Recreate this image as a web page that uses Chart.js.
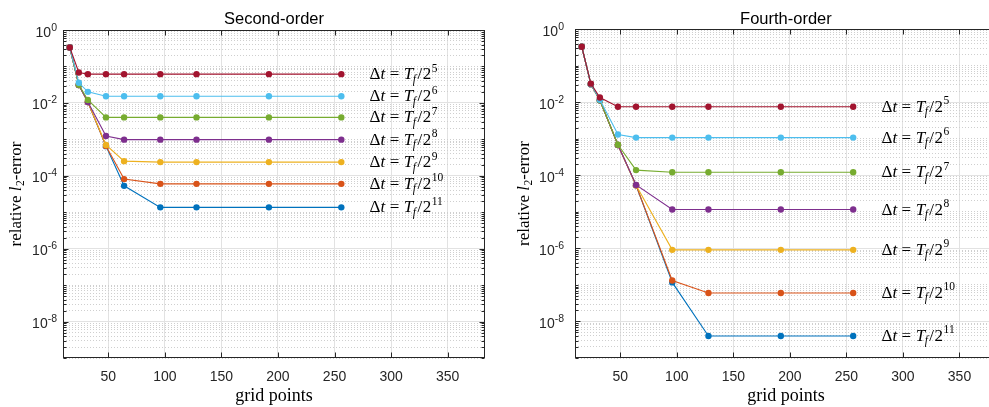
<!DOCTYPE html>
<html>
<head>
<meta charset="utf-8">
<script src="https://cdn.jsdelivr.net/npm/chart.js@4.4.1/dist/chart.umd.min.js"></script>
<style>
    html, body { margin: 0; padding: 0; background: #fff; overflow: hidden; }
    #wrap { position: relative; width: 989px; height: 407px; overflow: hidden; }
    #left { position: absolute; left: 0; top: 0; }
    #right { position: absolute; left: 495px; top: 0; }
</style>
</head>
<body>
<div id="wrap">
    <canvas id="left" width="495" height="407"></canvas>
    <canvas id="right" width="505" height="407"></canvas>
</div>
<script>
// Grid sizes (x values) shared by every curve
const gridPoints = [16, 24, 32, 48, 64, 96, 128, 192, 256];
const xTicks = [50, 100, 150, 200, 250, 300, 350];
const yMajorExponents = [0, -2, -4, -6, -8];
const stepExponents = [5, 6, 7, 8, 9, 10, 11];
const seriesColors = ['#A2142F', '#4DBEEE', '#77AC30', '#7E2F8E', '#EDB120', '#D95319', '#0072BD'];

// Second-order errors, dt = Tf/2^5 ... Tf/2^11
const second5  = [0.33, 0.068, 0.0614, 0.0614, 0.0614, 0.0614, 0.0614, 0.0614, 0.0614];
const second6  = [0.33, 0.0356, 0.0201, 0.0152, 0.0152, 0.0152, 0.0152, 0.0152, 0.0152];
const second7  = [0.33, 0.0313, 0.012, 0.004, 0.004, 0.004, 0.004, 0.004, 0.004];
const second8  = [0.33, 0.031, 0.0105, 0.00123, 0.00098, 0.00098, 0.00098, 0.00098, 0.00098];
const second9  = [0.33, 0.031, 0.0105, 0.0007, 0.000252, 0.000237, 0.000237, 0.000237, 0.000237];
const second10 = [0.33, 0.031, 0.0105, 0.00066, 8.1e-5, 6.0e-5, 6.0e-5, 6.0e-5, 6.0e-5];
const second11 = [0.33, 0.031, 0.0105, 0.00065, 5.3e-5, 1.36e-5, 1.36e-5, 1.36e-5, 1.36e-5];

// Fourth-order errors
const fourth5  = [0.327, 0.032, 0.0134, 0.0075, 0.0075, 0.0075, 0.0075, 0.0075, 0.0075];
const fourth6  = [0.327, 0.031, 0.0116, 0.0013, 0.00107, 0.00107, 0.00107, 0.00107, 0.00107];
const fourth7  = [0.327, 0.031, 0.0112, 0.00068, 0.000138, 0.000121, 0.000121, 0.000121, 0.000121];
const fourth8  = [0.327, 0.031, 0.0112, 0.00067, 5.4e-5, 1.15e-5, 1.15e-5, 1.15e-5, 1.15e-5];
const fourth9  = [0.327, 0.031, 0.0112, 0.00067, 5.3e-5, 9.1e-7, 9.1e-7, 9.1e-7, 9.1e-7];
const fourth10 = [0.327, 0.031, 0.0112, 0.00067, 5.3e-5, 1.32e-7, 6.0e-8, 6.0e-8, 6.0e-8];
const fourth11 = [0.327, 0.031, 0.0112, 0.00067, 5.3e-5, 1.17e-7, 4.0e-9, 4.0e-9, 4.0e-9];

const labelX = 281; // where the dt annotations start (data units)

const AXIS = '#262626';
const SANS = '"Liberation Sans", Arial, sans-serif';
const SERIF = '"Liberation Serif", "Times New Roman", serif';

function isMajor(v) {
    const e = Math.log10(v);
    const r = Math.round(e);
    return Math.abs(e - r) < 1e-6 && yMajorExponents.includes(r);
}

function drawPieces(ctx, x, y, pieces) {
    let cx = x;
    pieces.forEach(p => {
        ctx.font = p.font;
        cx += p.pre || 0;
        ctx.fillText(p.t, cx, y + (p.dy || 0));
        cx += ctx.measureText(p.t).width + (p.post || 0);
    });
    return cx - x;
}

function measurePieces(ctx, pieces) {
    let w = 0;
    pieces.forEach(p => {
        ctx.font = p.font;
        w += (p.pre || 0) + ctx.measureText(p.t).width + (p.post || 0);
    });
    return w;
}

function dtPieces(n) {
    const big = '17px ' + SERIF, it = 'italic 17px ' + SERIF;
    const sm = '11.5px ' + SERIF, smIt = 'italic 11.5px ' + SERIF;
    return [
        { t: '\u0394', font: big },
        { t: 't', font: it, post: 4.5 },
        { t: '=', font: big, post: 4.5 },
        { t: 'T', font: it, post: -0.5 },
        { t: 'f', font: smIt, dy: 3.5, post: 1.5 },
        { t: '/', font: big, post: 0.5 },
        { t: '2', font: big },
        { t: String(n), font: sm, dy: -7.5, pre: 0.5 }
    ];
}

const axesDecor = {
    id: 'axesDecor',
    afterDraw(chart, args, opts) {
        const { ctx, chartArea: a, scales: { x, y } } = chart;
        ctx.save();

        // axes box
        ctx.strokeStyle = AXIS;
        ctx.lineWidth = 1;
        const L = Math.round(a.left) + 0.5, R = Math.round(a.right) - 0.5;
        const T = Math.round(a.top) + 0.5, B = Math.round(a.bottom) - 0.5;
        ctx.strokeRect(L, T, R - L, B - T);

        // inward tick marks
        ctx.beginPath();
        xTicks.forEach(v => {
            const px = Math.round(x.getPixelForValue(v)) + 0.5;
            ctx.moveTo(px, B); ctx.lineTo(px, B - 5);
            ctx.moveTo(px, T); ctx.lineTo(px, T + 5);
        });
        y.ticks.forEach(t => {
            const py = Math.round(y.getPixelForValue(t.value)) + 0.5;
            const len = isMajor(t.value) ? 5 : 3;
            ctx.moveTo(L, py); ctx.lineTo(L + len, py);
            ctx.moveTo(R, py); ctx.lineTo(R - len, py);
        });
        ctx.stroke();

        // x tick labels
        ctx.fillStyle = AXIS;
        ctx.font = '14px ' + SANS;
        ctx.textAlign = 'center';
        ctx.textBaseline = 'alphabetic';
        xTicks.forEach(v => ctx.fillText(String(v), x.getPixelForValue(v), a.bottom + 23));

        // y tick labels 10^k
        ctx.textAlign = 'left';
        yMajorExponents.forEach(e => {
            const py = y.getPixelForValue(Math.pow(10, e));
            const pieces = [
                { t: '10', font: '14px ' + SANS },
                { t: e === 0 ? '0' : '-' + (-e), font: '10.5px ' + SANS, dy: -6 }
            ];
            const w = measurePieces(ctx, pieces);
            drawPieces(ctx, a.left - opts.tickGap - w, py + 6.5, pieces);
        });

        // y axis title
        ctx.fillStyle = '#000';
        const yt = [
            { t: 'relative ', font: '17px ' + SERIF },
            { t: 'l', font: 'italic 17px ' + SERIF, post: 0.5 },
            { t: '2', font: '11.5px ' + SERIF, dy: 3 },
            { t: '-error', font: '17px ' + SERIF }
        ];
        const tw = measurePieces(ctx, yt);
        ctx.save();
        ctx.translate(opts.titleBaseX, (a.top + a.bottom) / 2);
        ctx.rotate(-Math.PI / 2);
        drawPieces(ctx, -tw / 2, 0, yt);
        ctx.restore();

        // chart title
        ctx.font = '16.5px ' + SANS;
        ctx.textAlign = 'center';
        ctx.fillText(opts.title, (a.left + a.right) / 2, 24);
        ctx.textAlign = 'left';

        // dt annotations next to each flat tail
        chart.data.datasets.forEach((ds, i) => {
            const last = ds.data[ds.data.length - 1].y;
            const py = y.getPixelForValue(last);
            drawPieces(ctx, x.getPixelForValue(labelX), py + 5, dtPieces(stepExponents[i]));
        });

        ctx.restore();
    }
};

function makeChart(canvasId, title, series, opts) {
    const datasets = series.map((vals, i) => ({
        label: 'dt = Tf/2^' + stepExponents[i],
        data: gridPoints.map((g, j) => ({ x: g, y: vals[j] })),
        borderColor: seriesColors[i],
        backgroundColor: seriesColors[i],
        borderWidth: 1.1,
        pointRadius: 3.2,
        pointHoverRadius: 3.2,
        pointBorderWidth: 0,
        tension: 0
    }));

    return new Chart(document.getElementById(canvasId), {
        type: 'line',
        data: { datasets: datasets },
        plugins: [axesDecor],
        options: {
            responsive: false,
            animation: false,
            layout: { padding: { left: 0, right: opts.rightPad, top: opts.top, bottom: 0 } },
            plugins: {
                legend: { display: false },
                tooltip: { enabled: false },
                axesDecor: { title: title, tickGap: opts.tickGap, titleBaseX: opts.titleBaseX }
            },
            scales: {
                x: {
                    type: 'linear',
                    min: 10,
                    max: 383,
                    afterBuildTicks: s => { s.ticks = xTicks.map(v => ({ value: v })); },
                    afterFit: s => { s.height = 49; },
                    ticks: { display: false },
                    grid: { color: '#e2e2e2', lineWidth: 1, drawTicks: false },
                    border: { display: false },
                    title: {
                        display: true,
                        text: 'grid points',
                        color: '#000',
                        font: { family: SERIF, size: 18 },
                        padding: { top: 0, bottom: 0 }
                    }
                },
                y: {
                    type: 'logarithmic',
                    min: 1e-9,
                    max: 1,
                    afterBuildTicks: s => {
                        const t = [];
                        for (let e = -9; e <= 0; e++) {
                            for (let m = 1; m <= 9; m++) {
                                const v = m * Math.pow(10, e);
                                if (v <= 1) t.push({ value: v });
                            }
                        }
                        s.ticks = t;
                    },
                    afterFit: s => { s.width = opts.yWidth; },
                    ticks: { display: false },
                    grid: {
                        color: c => (c.tick && isMajor(c.tick.value)) ? '#e2e2e2' : '#cfcfcf',
                        lineWidth: 1,
                        drawTicks: false
                    },
                    border: {
                        display: false,
                        dash: c => (c.tick && !isMajor(c.tick.value)) ? [1, 2] : []
                    }
                }
            }
        }
    });
}

makeChart('left', 'Second-order',
    [second5, second6, second7, second8, second9, second10, second11],
    { yWidth: 63, rightPad: 10, top: 30, tickGap: 6, titleBaseX: 21 });

makeChart('right', 'Fourth-order',
    [fourth5, fourth6, fourth7, fourth8, fourth9, fourth10, fourth11],
    { yWidth: 80, rightPad: 3, top: 29, tickGap: 11, titleBaseX: 34 });
</script>
</body>
</html>
